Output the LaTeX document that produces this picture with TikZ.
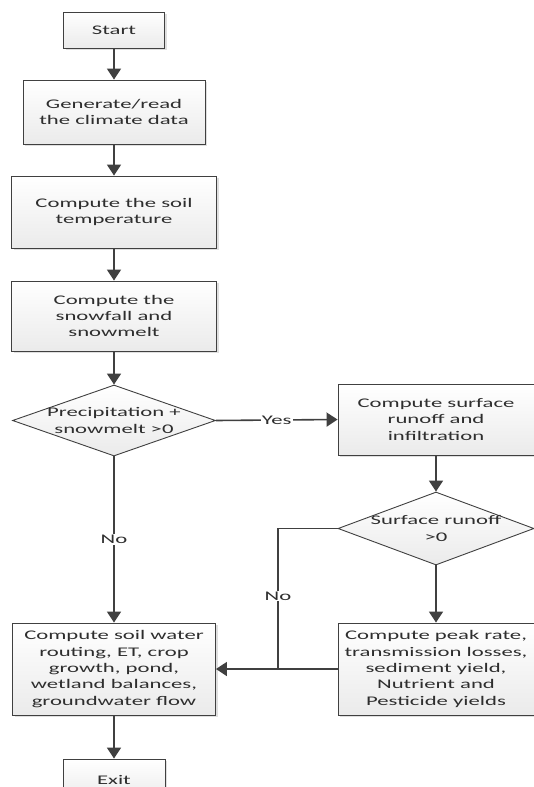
\documentclass[tikz,border=0pt]{standalone}
\usepackage{fontspec}
\setmainfont{Carlito}[FakeStretch=1.72]
\usetikzlibrary{arrows.meta,shapes.geometric,shadows}
\definecolor{linegray}{HTML}{404040}
\definecolor{textgray}{HTML}{2E2E2E}
\tikzset{
  base/.style={draw=linegray, line width=0.9pt, text=textgray, align=center,
    top color=white, bottom color=gray!16, inner sep=2pt,
    font=\fontsize{13.2}{16.4}\selectfont},
  stepbox/.style={base, rectangle,
    drop shadow={shadow xshift=2pt, shadow yshift=-2pt, opacity=0.25, fill=gray}},
  decision/.style={base, diamond, inner sep=0pt},
  dtext/.style={text=textgray, align=center, font=\fontsize{13.2}{16.4}\selectfont},
  flow/.style={draw=linegray, line width=1.6pt, -{Triangle[width=14pt,length=11pt]}},
  plain/.style={draw=linegray, line width=1.6pt},
  tag/.style={fill=white, text=textgray, inner sep=1pt, font=\fontsize{13.2}{16.4}\selectfont}
}
\begin{document}
\begin{tikzpicture}[x=1pt, y=-1pt]
  \clip (0,0) rectangle (534,787);
  \fill[white] (0,0) rectangle (534,787);

  % main column
  \node[stepbox, minimum width=101pt, minimum height=36pt] (start) at (114,30) {Start};
  \node[stepbox, minimum width=182pt, minimum height=64pt] (gen) at (114,112) {Generate/read\\the climate data};
  \node[stepbox, minimum width=205pt, minimum height=72pt] (soil) at (114,212) {Compute the soil\\temperature};
  \node[stepbox, minimum width=205pt, minimum height=70pt] (snow) at (114,316) {Compute the\\snowfall and\\snowmelt};
  \node[decision, minimum width=203pt, minimum height=71pt] (d1) at (114,420.5) {};
  \node[dtext] (d1t) at (d1) {Precipitation +\\snowmelt >0};
  \node[stepbox, minimum width=203pt, minimum height=92pt] (water) at (114,669) {Compute soil water\\routing, ET, crop\\growth, pond,\\wetland balances,\\groundwater flow};
  \node[stepbox, minimum width=102pt, minimum height=42pt] (exit) at (114,780) {Exit};

  % runoff branch
  \node[stepbox, minimum width=196pt, minimum height=71pt] (surf) at (436,419.5) {Compute surface\\runoff and\\infiltration};
  \node[decision, minimum width=196pt, minimum height=73pt] (d2) at (436,528.5) {};
  \node[dtext] (d2t) at (d2) {Surface runoff\\>0};
  \node[stepbox, minimum width=196pt, minimum height=92pt] (peak) at (436,669) {Compute peak rate,\\transmission losses,\\sediment yield,\\Nutrient and\\Pesticide yields};

  \coordinate (join) at (278,669);

  % connectors
  \draw[flow] (start) -- (gen);
  \draw[flow] (gen) -- (soil);
  \draw[flow] (soil) -- (snow);
  \draw[flow] (snow) -- (d1);
  \draw[flow] (d1.east) -- node[tag] {Yes} (surf.west);
  \draw[flow] (d1.south) -- node[tag] {No} (water.north);
  \draw[flow] (surf) -- (d2);
  \draw[flow] (d2.south) -- (peak.north);
  \draw[plain] (d2.west) -| node[tag, pos=0.74] {No} (join);
  \draw[flow] (peak.west) -- (water.east);
  \draw[flow] (water) -- (exit);
\end{tikzpicture}
\end{document}
